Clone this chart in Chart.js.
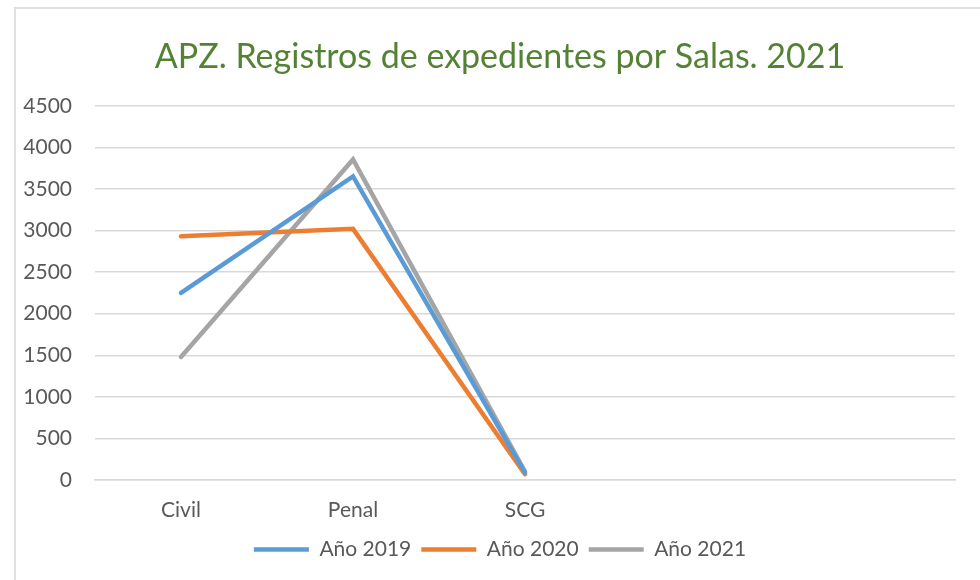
<!DOCTYPE html>
<html lang="es">
<head>
    <meta charset="UTF-8">
    <title>APZ. Registros de expedientes por Salas. 2021</title>
    <script src="https://cdn.jsdelivr.net/npm/chart.js@4/dist/chart.umd.min.js"></script>
    <style>
        body{
            margin: 0;
            background-color: white;
            overflow: hidden;
        }
        #marco{
            position: absolute;
            left: 14px;
            top: 7px;
            width: 1000px;
            height: 600px;
            border: 2px solid #e0e0e0;
        }
        #caja{
            position: absolute;
            left: 0;
            top: 0;
            width: 980px;
            height: 580px;
        }
    </style>
</head>
<body>
    <div id="marco"></div>
    <div id="caja">
        <canvas id="myChart" width="980" height="580"></canvas>
    </div>
    <script>
        // datos
        var salas = ["Civil", "Penal", "SCG", "", ""];
        var anio2019 = [2250, 3650, 90];
        var anio2020 = [2930, 3020, 70];
        var anio2021 = [1480, 3855, 100];
        var yTicks = [0, 500, 1000, 1500, 2000, 2500, 3000, 3500, 4000, 4500];

        var fuente = "Lato, 'Open Sans', sans-serif";
        var gris = "#595959";

        function serie(nombre, valores, color){
            return {
                label: nombre,
                data: valores,
                borderColor: color,
                backgroundColor: color,
                borderWidth: 4.5,
                borderCapStyle: "round",
                tension: 0,
                pointRadius: 0,
                pointHoverRadius: 0,
                pointStyle: "line"
            };
        }

        new Chart("myChart", {
            type: "line",
            data: {
                labels: salas,
                datasets: [
                    serie("Año 2019", anio2019, "#5b9bd5"),
                    serie("Año 2020", anio2020, "#ed7d31"),
                    serie("Año 2021", anio2021, "#a5a5a5")
                ]
            },
            options: {
                responsive: false,
                animation: false,
                devicePixelRatio: 1,
                layout: {padding: {left: 20, right: 0, top: 0, bottom: 10}},
                plugins: {
                    title: {
                        display: true,
                        text: "APZ. Registros de expedientes por Salas. 2021",
                        color: "#548235",
                        font: {family: fuente, size: 34, weight: "normal"},
                        padding: {top: 37, bottom: 28}
                    },
                    legend: {
                        position: "bottom",
                        labels: {
                            usePointStyle: true,
                            pointStyle: "line",
                            pointStyleWidth: 55,
                            color: gris,
                            font: {family: fuente, size: 21},
                            padding: 10
                        }
                    },
                    tooltip: {enabled: false}
                },
                scales: {
                    x: {
                        offset: true,
                        afterFit: function(scale){ scale.height = 49; },
                        grid: {display: false, drawTicks: false},
                        border: {display: true, color: "#d9d9d9", width: 1.5},
                        ticks: {color: gris, font: {family: fuente, size: 21, lineHeight: 1}, padding: 20, maxRotation: 0}
                    },
                    y: {
                        min: 0,
                        max: 4500,
                        afterFit: function(scale){ scale.width = 75; },
                        afterBuildTicks: function(scale){
                            scale.ticks = yTicks.map(function(v){ return {value: v}; });
                        },
                        grid: {color: "#d9d9d9", lineWidth: 1.5, drawTicks: false},
                        border: {display: false},
                        ticks: {
                            color: gris,
                            font: {family: fuente, size: 21},
                            padding: 23,
                            callback: function(v){ return String(v); }
                        }
                    },
                    // eje vacio a la derecha, solo deja el margen
                    yDer: {
                        position: "right",
                        min: 0,
                        max: 4500,
                        afterFit: function(scale){ scale.width = 25; },
                        grid: {display: false, drawTicks: false},
                        border: {display: false},
                        ticks: {display: false}
                    }
                }
            }
        });
    </script>
</body>
</html>
